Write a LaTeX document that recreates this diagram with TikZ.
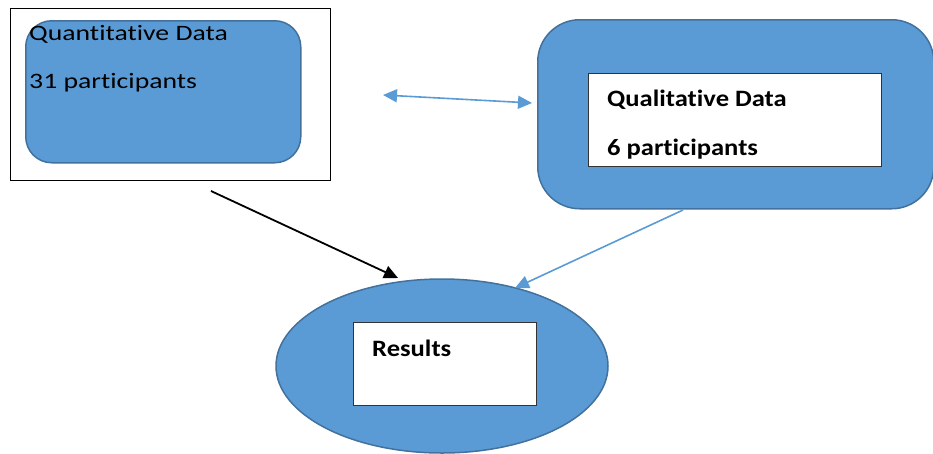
\documentclass[tikz,border=0pt]{standalone}
\usepackage{fontspec}
\setmainfont{Carlito}[Ligatures=NoCommon]
\usetikzlibrary{arrows.meta,shapes.geometric}
\definecolor{fillblue}{HTML}{5B9BD5}
\definecolor{edgeblue}{HTML}{41719C}
\newcommand{\widetext}[1]{\scalebox{1.26}[1]{#1}}
\newcommand{\widebold}[1]{\scalebox{1.13}[1]{#1}}
\tikzset{
  bluebox/.style={draw=edgeblue, line width=1.5pt, fill=fillblue},
  whitebox/.style={draw=black!80, line width=1pt, fill=white},
  label/.style={anchor=base west, inner sep=0pt, text=black},
  plainfont/.style={font=\fontsize{22}{26}\selectfont},
  boldfont/.style={font=\bfseries\fontsize{23.5}{28}\selectfont},
  bluearrow/.style={draw=fillblue, line width=1.6pt, -{Triangle[length=14pt,width=13pt]}},
  blackarrow/.style={draw=black, line width=1.8pt, -{Triangle[length=14pt,width=13pt]}},
}
\begin{document}
\begin{tikzpicture}[x=1pt,y=-1pt]
\useasboundingbox (0,0) rectangle (933,453);

% quantitative side
\node[draw=black, line width=1pt, fill=white, minimum width=320pt, minimum height=172pt, anchor=north west, inner sep=0pt] (quantframe) at (10,8) {};
\node[bluebox, rounded corners=26pt, minimum width=275pt, minimum height=142pt, anchor=north west, inner sep=0pt] (quant) at (25,20) {};
\node[label, plainfont] (quantt) at (29,40) {\widetext{Quantitative Data}};
\node[label, plainfont] (quantn) at (29,88) {\widetext{31 participants}};

% qualitative side
\node[bluebox, rounded corners=42pt, minimum width=396pt, minimum height=189pt, anchor=north west, inner sep=0pt] (qual) at (537,19) {};
\node[whitebox, minimum width=293pt, minimum height=93pt, anchor=north west, inner sep=0pt] (qualin) at (588,73) {};
\node[label, boldfont] (qualt) at (607,106) {\widebold{Qualitative Data}};
\node[label, boldfont] (qualn) at (607,155) {\widebold{6 participants}};

% results
\node[bluebox, ellipse, minimum width=332pt, minimum height=174pt, inner sep=0pt] (res) at (442,366) {};
\node[whitebox, minimum width=183pt, minimum height=83pt, anchor=north west, inner sep=0pt] (resin) at (353,322) {};
\node[label, boldfont] (rest) at (372,356) {\widebold{Results}};

% connectors
\coordinate (linkL) at (383,95);
\coordinate (linkR) at (532,103);
\coordinate (quantout) at (211,191);
\coordinate (quantin) at (398,278);
\coordinate (qualout) at (683,210);
\coordinate (resinA) at (515,288);
\draw[bluearrow, {Triangle[length=14pt,width=13pt]}-{Triangle[length=14pt,width=13pt]}] (linkL) -- (linkR);
\draw[blackarrow] (quantout) -- (quantin);
\draw[bluearrow] (qualout) -- (resinA);
\end{tikzpicture}
\end{document}
